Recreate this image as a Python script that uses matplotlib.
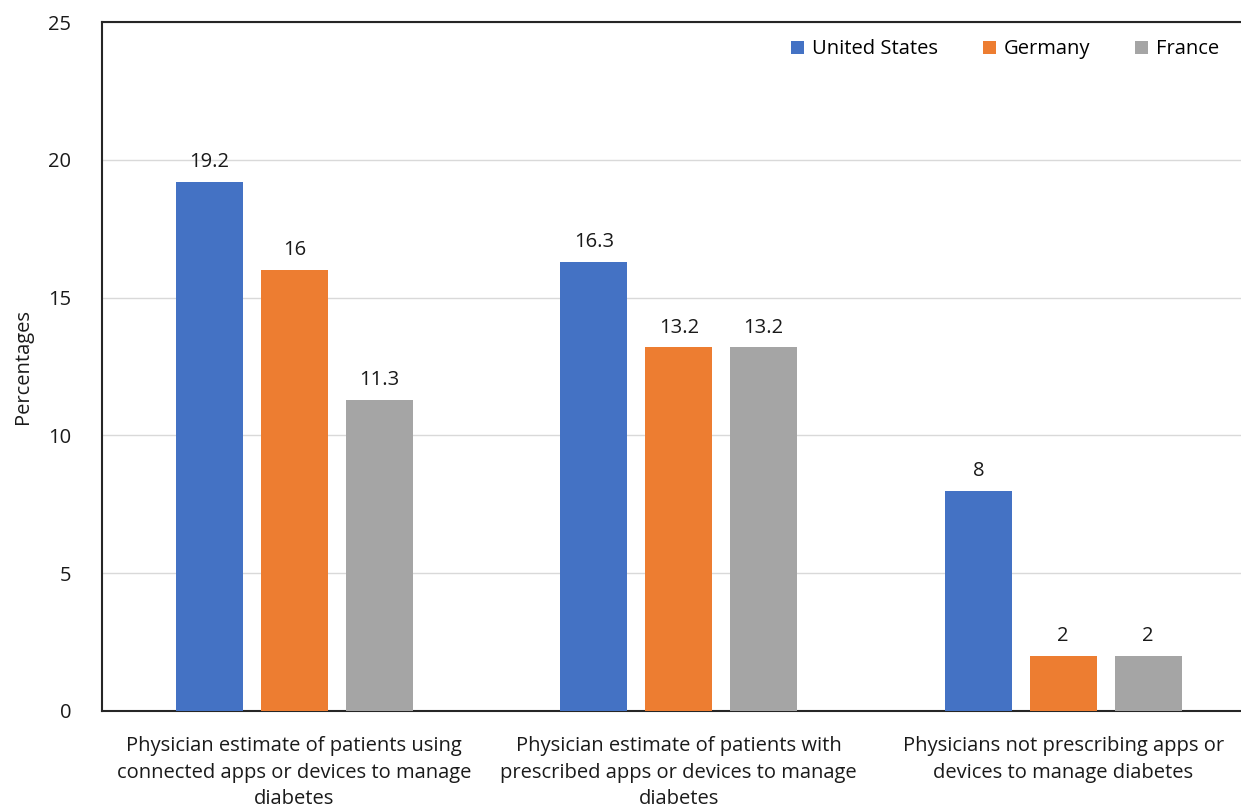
import matplotlib
matplotlib.use("Agg")
import matplotlib.pyplot as plt
import numpy as np

categories = [
    "Physician estimate of patients using\nconnected apps or devices to manage\ndiabetes",
    "Physician estimate of patients with\nprescribed apps or devices to manage\ndiabetes",
    "Physicians not prescribing apps or\ndevices to manage diabetes",
]
series_names = ["United States", "Germany", "France"]
united_states = [19.2, 16.3, 8]
germany = [16, 13.2, 2]
france = [11.3, 13.2, 2]
colors = ["#4472C4", "#ED7D31", "#A5A5A5"]
yticks = [0, 5, 10, 15, 20, 25]

plt.rcParams["font.family"] = ["Open Sans", "DejaVu Sans"]
FS = 14.5

fig = plt.figure(figsize=(12.41, 8.10), dpi=100)
ax = fig.add_axes([102 / 1241, 1 - 711 / 810, 1153.5 / 1241, 689 / 810])

x = np.arange(len(categories))
pitch = 0.221
width = 0.174
for i, (name, vals, col) in enumerate(zip(series_names, [united_states, germany, france], colors)):
    pos = x + (i - 1) * pitch
    bars = ax.bar(pos, vals, width=width, color=col, label=name, zorder=3)
    for b, v in zip(bars, vals):
        ax.text(b.get_x() + b.get_width() / 2, v + 0.35, f"{v:g}",
                ha="center", va="bottom", fontsize=FS, color="#1a1a1a")

ax.set_xlim(-0.5, 2.5)
ax.set_ylim(0, 25)
ax.set_yticks(yticks)
ax.set_xticks(x)
ax.set_xticklabels(categories, fontsize=FS, color="#1a1a1a", linespacing=1.45)
ax.tick_params(axis="both", length=0, labelsize=FS, colors="#1a1a1a")
ax.tick_params(axis="y", pad=22)
ax.tick_params(axis="x", pad=18)
ax.grid(axis="y", color="#d9d9d9", linewidth=1, zorder=0)
for s in ["left", "bottom", "top"]:
    ax.spines[s].set_color("#262626")
    ax.spines[s].set_linewidth(1.5)
ax.spines["right"].set_visible(False)

ax.set_ylabel("Percentages", fontsize=FS, color="#1a1a1a", labelpad=11)

leg = ax.legend(loc="upper right", bbox_to_anchor=((1237 - 102) / 1153.5, 1.001),
                ncol=3, frameon=False, fontsize=FS, handlelength=0.65, handleheight=0.65,
                columnspacing=2.2, handletextpad=0.4)

fig.savefig("out.png", dpi=100)
